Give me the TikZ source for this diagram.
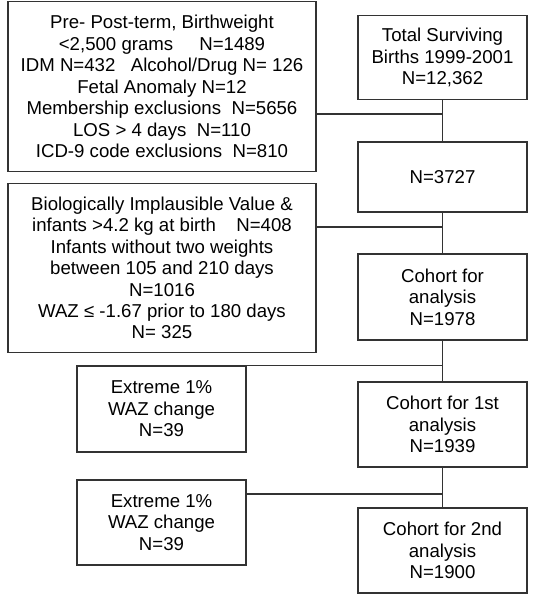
\documentclass[tikz,border=0pt]{standalone}
\usepackage{fontspec}
\setmainfont{Liberation Sans}

\begin{document}
\begin{tikzpicture}[line width=0.7pt, draw=black!80,
		box/.style={draw=black!80, align=center, inner sep=0pt, font=\fontsize{10.6}{12.2}\selectfont},
		wide/.style={box, minimum width=6.16cm, minimum height=3.39cm},
		narrow/.style={box, minimum width=3.38cm, minimum height=1.70cm}]
			\useasboundingbox (0, 0) rectangle (10.7, 11.98);

			\draw (3.24, 10.25) 	node[wide] 	(excl_a) 	{Pre- Post-term, Birthweight\\ <2,500 grams\hspace{1.4em}N=1489\\ IDM N=432\hspace{0.83em}Alcohol/Drug N= 126\\ Fetal Anomaly N=12\\ Membership exclusions\hspace{0.56em}N=5656\\ LOS > 4 days\hspace{0.56em}N=110\\ ICD-9 code exclusions\hspace{0.56em}N=810};
			\draw (8.85, 10.83) 	node[narrow, minimum height=1.68cm] 	(total) 	{Total Surviving\\ Births 1999-2001\\ N=12,362};
			\draw (8.85, 8.44) 	node[narrow, minimum height=1.40cm] 	(n3727) 	{N=3727};
			\draw (3.24, 6.62) 	node[wide] 	(excl_b) 	{Biologically Implausible Value \&\\ infants >4.2 kg at birth\hspace{1.1em}N=408\\ Infants without two weights\\ between 105 and 210 days\\ N=1016\\ WAZ ≤ -1.67 prior to 180 days\\ N= 325};
			\draw (8.85, 6.04) 	node[narrow, minimum height=1.72cm] 	(cohort) 	{Cohort for\\ analysis\\ N=1978};
			\draw (3.23, 3.80) 	node[narrow, minimum height=1.72cm] 	(extreme_a) 	{Extreme 1\%\\ WAZ change\\ N=39};
			\draw (8.85, 3.49) 	node[narrow] 	(cohort_a) 	{Cohort for 1st\\ analysis\\ N=1939};
			\draw (3.23, 1.53) 	node[narrow] 	(extreme_b) 	{Extreme 1\%\\ WAZ change\\ N=39};
			\draw (8.85, 0.97) 	node[narrow] 	(cohort_b) 	{Cohort for 2nd\\ analysis\\ N=1900};

			\coordinate (j1) at (8.85, 9.70);
			\coordinate (j2) at (8.85, 7.44);
			\coordinate (j4) at (8.85, 2.10);

			\draw (total) -- (n3727) -- (cohort) -- (cohort_a) -- (cohort_b);
			\draw (excl_a.east |- j1) -- (j1);
			\draw (excl_b.east |- j2) -- (j2);
			\draw (extreme_a.north east) -- (extreme_a.north east -| cohort.south);
			\draw (extreme_b.east |- j4) -- (j4);
		\end{tikzpicture}
\end{document}
